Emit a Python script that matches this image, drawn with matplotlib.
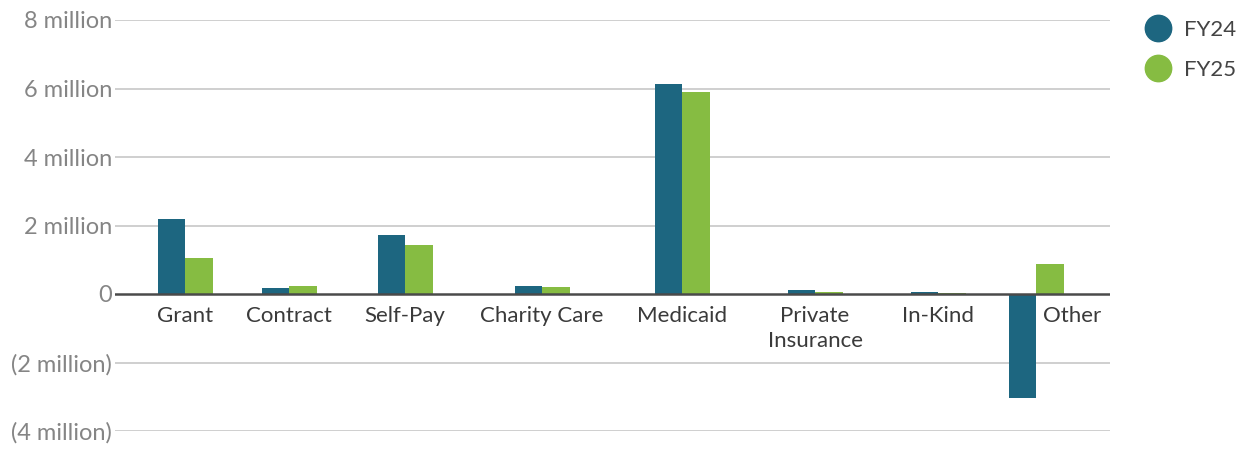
import matplotlib.pyplot as plt
from matplotlib.lines import Line2D

plt.rcParams['font.family'] = ['Lato', 'DejaVu Sans']

# revenue by source, in dollars
categories = ['Grant', 'Contract', 'Self-Pay', 'Charity Care', 'Medicaid',
              'Private\nInsurance', 'In-Kind', 'Other']
fy24 = [2.18e6, 0.17e6, 1.72e6, 0.22e6, 6.13e6, 0.11e6, 0.05e6, -3.04e6]
fy25 = [1.04e6, 0.22e6, 1.42e6, 0.20e6, 5.90e6, 0.05e6, 0.04e6, 0.87e6]
y_ticks = [-4e6, -2e6, 0, 2e6, 4e6, 6e6, 8e6]
y_labels = ['(4 million)', '(2 million)', '0', '2 million', '4 million',
            '6 million', '8 million']

# group centres along the x range; groups get room according to label width
slot_x = [70, 174, 290, 427, 567, 700, 823, 921]
bar_w = 27.5

c24 = '#1d6680'
c25 = '#86bc42'

fig = plt.figure(figsize=(12.45, 4.49), dpi=100)
ax = fig.add_axes([115 / 1245, 1 - 431 / 449, 995 / 1245, 411 / 449])

ax.bar([s - bar_w / 2 for s in slot_x], fy24, bar_w, color=c24, zorder=3)
ax.bar([s + bar_w / 2 for s in slot_x], fy25, bar_w, color=c25, zorder=3)

ax.set_xlim(0, 995)
ax.set_ylim(-4e6, 8e6)

# gridlines, zero baseline darker
for t in y_ticks:
    if t == 0:
        ax.axhline(0, color='#4a4a4a', lw=1.8, zorder=4)
    else:
        ax.axhline(t, color='#cccccc', lw=1.3, zorder=1)

ax.set_yticks(y_ticks)
ax.set_yticklabels(y_labels)
ax.tick_params(axis='y', length=0, pad=2, labelsize=17, labelcolor='#858585')
ax.set_xticks([])
for s in ax.spines.values():
    s.set_visible(False)

# category labels below the baseline; the last one sits beside its negative bar
for name, s in zip(categories, slot_x):
    xpos = s + 36 if name == 'Other' else s
    ax.annotate(name, (xpos, 0), xytext=(0, -8.5), textcoords='offset points',
                ha='center', va='top', fontsize=16, color='#3a3a3a',
                linespacing=1.35)

# legend: coloured dots with series names
for i, (lab, col) in enumerate([('FY24', c24), ('FY25', c25)]):
    yf = 1 - (28 + 40 * i) / 449
    fig.add_artist(Line2D([1158 / 1245], [yf], marker='o', ls='', color=col,
                          markersize=19, transform=fig.transFigure))
    fig.text(1184 / 1245, yf, lab, ha='left', va='center_baseline',
             fontsize=16, color='#444444')

fig.savefig('out.png', dpi=100)
